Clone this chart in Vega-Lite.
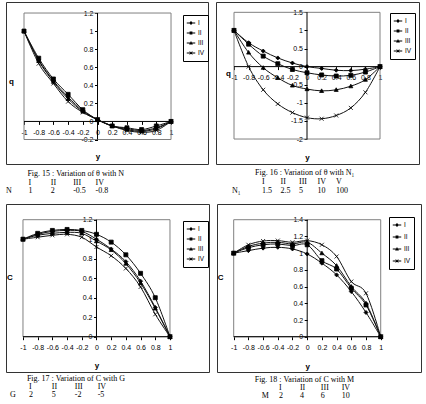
{
"$schema":"https://vega.github.io/schema/vega-lite/v6.json",
"padding":{"left":5,"top":1,"right":0,"bottom":0},
"background":"#ffffff",
"config":{
"locale":{"number":{"decimal":".","thousands":",","grouping":[3],"currency":["$",""],"minus":"-"}},
"view":{"stroke":"#333333","strokeWidth":1},
"axis":{"labelFont":"Liberation Sans","labelFontSize":7,"labelColor":"#000","titleFont":"Liberation Sans","titleFontSize":8,"titleFontWeight":"bold","titleColor":"#000","domain":false,"grid":false,"tickColor":"#000","tickSize":3,"format":"~g"},
"legend":{"orient":"none","title":null,"strokeColor":"#000","fillColor":"#fff","padding":3,"labelFont":"Liberation Sans","labelFontSize":6.5,"labelColor":"#000","symbolSize":72,"symbolOpacity":1,"symbolFillColor":"#000","rowPadding":0,"labelOffset":2}
},
"datasets":{
"p1":[
{"s":"I","x":-1,"v":1},{"s":"I","x":-0.8,"v":0.68},{"s":"I","x":-0.6,"v":0.45},{"s":"I","x":-0.4,"v":0.27},{"s":"I","x":-0.2,"v":0.12},{"s":"I","x":0,"v":0.02},{"s":"I","x":0.2,"v":-0.05},{"s":"I","x":0.4,"v":-0.08},{"s":"I","x":0.6,"v":-0.1},{"s":"I","x":0.8,"v":-0.07},{"s":"I","x":1,"v":0},
{"s":"II","x":-1,"v":1},{"s":"II","x":-0.8,"v":0.7},{"s":"II","x":-0.6,"v":0.47},{"s":"II","x":-0.4,"v":0.3},{"s":"II","x":-0.2,"v":0.13},{"s":"II","x":0,"v":0.02},{"s":"II","x":0.2,"v":-0.05},{"s":"II","x":0.4,"v":-0.07},{"s":"II","x":0.6,"v":-0.09},{"s":"II","x":0.8,"v":-0.05},{"s":"II","x":1,"v":0},
{"s":"III","x":-1,"v":1},{"s":"III","x":-0.8,"v":0.67},{"s":"III","x":-0.6,"v":0.44},{"s":"III","x":-0.4,"v":0.25},{"s":"III","x":-0.2,"v":0.11},{"s":"III","x":0,"v":0.02},{"s":"III","x":0.2,"v":-0.05},{"s":"III","x":0.4,"v":-0.09},{"s":"III","x":0.6,"v":-0.11},{"s":"III","x":0.8,"v":-0.08},{"s":"III","x":1,"v":0},
{"s":"IV","x":-1,"v":1},{"s":"IV","x":-0.8,"v":0.64},{"s":"IV","x":-0.6,"v":0.42},{"s":"IV","x":-0.4,"v":0.22},{"s":"IV","x":-0.2,"v":0.1},{"s":"IV","x":0,"v":0.02},{"s":"IV","x":0.2,"v":-0.05},{"s":"IV","x":0.4,"v":-0.1},{"s":"IV","x":0.6,"v":-0.12},{"s":"IV","x":0.8,"v":-0.1},{"s":"IV","x":1,"v":0}],
"p2":[
{"s":"I","x":-1,"v":1},{"s":"I","x":-0.8,"v":0.66},{"s":"I","x":-0.6,"v":0.43},{"s":"I","x":-0.4,"v":0.24},{"s":"I","x":-0.2,"v":0.1},{"s":"I","x":0,"v":0},{"s":"I","x":0.2,"v":-0.05},{"s":"I","x":0.4,"v":-0.1},{"s":"I","x":0.6,"v":-0.11},{"s":"I","x":0.8,"v":-0.07},{"s":"I","x":1,"v":0},
{"s":"II","x":-1,"v":1},{"s":"II","x":-0.8,"v":0.62},{"s":"II","x":-0.6,"v":0.29},{"s":"II","x":-0.4,"v":0.08},{"s":"II","x":-0.2,"v":-0.08},{"s":"II","x":0,"v":-0.17},{"s":"II","x":0.2,"v":-0.23},{"s":"II","x":0.4,"v":-0.26},{"s":"II","x":0.6,"v":-0.24},{"s":"II","x":0.8,"v":-0.15},{"s":"II","x":1,"v":0},
{"s":"III","x":-1,"v":1},{"s":"III","x":-0.8,"v":0.39},{"s":"III","x":-0.6,"v":-0.03},{"s":"III","x":-0.4,"v":-0.31},{"s":"III","x":-0.2,"v":-0.52},{"s":"III","x":0,"v":-0.62},{"s":"III","x":0.2,"v":-0.67},{"s":"III","x":0.4,"v":-0.64},{"s":"III","x":0.6,"v":-0.54},{"s":"III","x":0.8,"v":-0.36},{"s":"III","x":1,"v":0},
{"s":"IV","x":-1,"v":1},{"s":"IV","x":-0.8,"v":0},{"s":"IV","x":-0.6,"v":-0.64},{"s":"IV","x":-0.4,"v":-1.03},{"s":"IV","x":-0.2,"v":-1.27},{"s":"IV","x":0,"v":-1.41},{"s":"IV","x":0.2,"v":-1.44},{"s":"IV","x":0.4,"v":-1.35},{"s":"IV","x":0.6,"v":-1.14},{"s":"IV","x":0.8,"v":-0.71},{"s":"IV","x":1,"v":0}],
"p3":[
{"s":"I","x":-1,"v":1},{"s":"I","x":-0.8,"v":1.05},{"s":"I","x":-0.6,"v":1.08},{"s":"I","x":-0.4,"v":1.09},{"s":"I","x":-0.2,"v":1.08},{"s":"I","x":0,"v":1.0},{"s":"I","x":0.2,"v":0.9},{"s":"I","x":0.4,"v":0.77},{"s":"I","x":0.6,"v":0.57},{"s":"I","x":0.8,"v":0.3},{"s":"I","x":1,"v":0},
{"s":"II","x":-1,"v":1},{"s":"II","x":-0.8,"v":1.06},{"s":"II","x":-0.6,"v":1.09},{"s":"II","x":-0.4,"v":1.1},{"s":"II","x":-0.2,"v":1.09},{"s":"II","x":0,"v":1.05},{"s":"II","x":0.2,"v":0.97},{"s":"II","x":0.4,"v":0.84},{"s":"II","x":0.6,"v":0.65},{"s":"II","x":0.8,"v":0.4},{"s":"II","x":1,"v":0},
{"s":"III","x":-1,"v":1},{"s":"III","x":-0.8,"v":1.04},{"s":"III","x":-0.6,"v":1.06},{"s":"III","x":-0.4,"v":1.07},{"s":"III","x":-0.2,"v":1.06},{"s":"III","x":0,"v":0.98},{"s":"III","x":0.2,"v":0.89},{"s":"III","x":0.4,"v":0.75},{"s":"III","x":0.6,"v":0.55},{"s":"III","x":0.8,"v":0.29},{"s":"III","x":1,"v":0},
{"s":"IV","x":-1,"v":1},{"s":"IV","x":-0.8,"v":1.02},{"s":"IV","x":-0.6,"v":1.04},{"s":"IV","x":-0.4,"v":1.05},{"s":"IV","x":-0.2,"v":1.02},{"s":"IV","x":0,"v":0.92},{"s":"IV","x":0.2,"v":0.83},{"s":"IV","x":0.4,"v":0.7},{"s":"IV","x":0.6,"v":0.51},{"s":"IV","x":0.8,"v":0.23},{"s":"IV","x":1,"v":0}],
"p4":[
{"s":"I","x":-1,"v":1},{"s":"I","x":-0.8,"v":1.03},{"s":"I","x":-0.6,"v":1.06},{"s":"I","x":-0.4,"v":1.07},{"s":"I","x":-0.2,"v":1.05},{"s":"I","x":0,"v":0.99},{"s":"I","x":0.2,"v":0.88},{"s":"I","x":0.4,"v":0.74},{"s":"I","x":0.6,"v":0.54},{"s":"I","x":0.8,"v":0.29},{"s":"I","x":1,"v":0},
{"s":"II","x":-1,"v":1},{"s":"II","x":-0.8,"v":1.065},{"s":"II","x":-0.6,"v":1.1},{"s":"II","x":-0.4,"v":1.11},{"s":"II","x":-0.2,"v":1.09},{"s":"II","x":0,"v":1.1},{"s":"II","x":0.2,"v":0.91},{"s":"II","x":0.4,"v":0.81},{"s":"II","x":0.6,"v":0.58},{"s":"II","x":0.8,"v":0.38},{"s":"II","x":1,"v":0},
{"s":"III","x":-1,"v":1},{"s":"III","x":-0.8,"v":1.08},{"s":"III","x":-0.6,"v":1.12},{"s":"III","x":-0.4,"v":1.13},{"s":"III","x":-0.2,"v":1.11},{"s":"III","x":0,"v":1.13},{"s":"III","x":0.2,"v":1.0},{"s":"III","x":0.4,"v":0.85},{"s":"III","x":0.6,"v":0.6},{"s":"III","x":0.8,"v":0.4},{"s":"III","x":1,"v":0},
{"s":"IV","x":-1,"v":1},{"s":"IV","x":-0.8,"v":1.1},{"s":"IV","x":-0.6,"v":1.145},{"s":"IV","x":-0.4,"v":1.15},{"s":"IV","x":-0.2,"v":1.13},{"s":"IV","x":0,"v":1.15},{"s":"IV","x":0.2,"v":1.1},{"s":"IV","x":0.4,"v":0.96},{"s":"IV","x":0.6,"v":0.66},{"s":"IV","x":0.8,"v":0.52},{"s":"IV","x":1,"v":0}]
},
"spacing":0,
"resolve":{"scale":{"shape":"independent"},"legend":{"shape":"independent"}},
"vconcat":[
{"bounds":"flush","spacing":8,"resolve":{"scale":{"shape":"independent"},"legend":{"shape":"independent"}},"hconcat":[
{"width":202,"height":162,
"resolve":{"scale":{"shape":"independent"},"legend":{"shape":"independent"}},
"layer":[
{"data":{"values":[{}]},"mark":{"type":"rect","fillOpacity":0,"stroke":"#808080","strokeWidth":1},
"encoding":{"x":{"datum":-1,"type":"quantitative","scale":{"domain":[-1.245,1.503],"nice":false,"zero":false}},"x2":{"datum":1},"y":{"datum":-0.2,"type":"quantitative","scale":{"domain":[-0.471,1.322],"nice":false,"zero":false}},"y2":{"datum":1.2}}},
{"data":{"values":[{}]},"mark":{"type":"rule","color":"#000","strokeWidth":1},
"encoding":{"x":{"datum":-1,"type":"quantitative","scale":{"domain":[-1.245,1.503],"nice":false,"zero":false}},"x2":{"datum":1},"y":{"datum":0,"type":"quantitative","scale":{"domain":[-0.471,1.322],"nice":false,"zero":false}}}},
{"data":{"values":[{}]},"mark":{"type":"rule","color":"#000","strokeWidth":1},
"encoding":{"x":{"datum":0,"type":"quantitative","scale":{"domain":[-1.245,1.503],"nice":false,"zero":false}},"y":{"datum":-0.2,"type":"quantitative","scale":{"domain":[-0.471,1.322],"nice":false,"zero":false}},"y2":{"datum":1.2}}},
{"data":{"name":"p1"},"mark":{"type":"line","color":"#111","strokeWidth":1,"interpolate":"cardinal"},
"encoding":{"x":{"field":"x","type":"quantitative","scale":{"domain":[-1.245,1.503],"nice":false,"zero":false},"axis":{"orient":"bottom","offset":-42.6,"values":[-1,-0.8,-0.6,-0.4,-0.2,0,0.2,0.4,0.6,0.8,1],"tickCount":40,"labelOverlap":false,"labelFlush":false,"labelBound":false,"title":"y","titleX":91.5,"titleY":35,"titleBaseline":"middle","labelPadding":4}},
"y":{"field":"v","type":"quantitative","scale":{"domain":[-0.471,1.322],"nice":false,"zero":false},"axis":{"orient":"left","offset":-91.5,"values":[-0.2,0,0.2,0.4,0.6,0.8,1,1.2],"tickCount":40,"labelOverlap":false,"labelFlush":false,"labelBound":false,"title":"q","titleAngle":0,"titleX":-86.5,"titleY":79,"titleAlign":"center","titleBaseline":"middle","labelPadding":1.5}},
"detail":{"field":"s"}}},
{"data":{"name":"p1"},"mark":{"type":"point","filled":true,"fill":"#000","stroke":"#000","strokeWidth":0.8,"opacity":1,"size":16},
"encoding":{"x":{"field":"x","type":"quantitative","scale":{"domain":[-1.245,1.503],"nice":false,"zero":false}},"y":{"field":"v","type":"quantitative","scale":{"domain":[-0.471,1.322],"nice":false,"zero":false}},
"shape":{"field":"s","type":"nominal","scale":{"domain":["I","II","III","IV"],"range":["M0,-1L1,0L0,1L-1,0Z","M-1,-1L1,-1L1,1L-1,1Z","M0,-1L1,0.8L-1,0.8Z","M-1,-1L1,1M-1,1L1,-1"]},"legend":null}}},
{"data":{"name":"p1"},"transform":[{"filter":"false"}],"mark":{"type":"point","filled":true,"fill":"#000"},
"encoding":{"shape":{"field":"s","type":"nominal","scale":{"domain":["I","II","III","IV"],"range":["M-1,-0.11L1,-0.11L1,0.11L-1,0.11ZM0,-0.45L0.45,0L0,0.45L-0.45,0Z","M-1,-0.11L1,-0.11L1,0.11L-1,0.11ZM-0.33,-0.33L0.33,-0.33L0.33,0.33L-0.33,0.33Z","M-1,-0.11L1,-0.11L1,0.11L-1,0.11ZM0,-0.45L0.45,0.35L-0.45,0.35Z","M-1,-0.11L1,-0.11L1,0.11L-1,0.11ZM-0.273,-0.387L0.387,0.273L0.273,0.387L-0.387,-0.273ZM-0.387,0.273L0.273,-0.387L0.387,-0.273L-0.273,0.387Z"]},"legend":{"legendX":177,"legendY":13}}}}
]},
{"width":203,"height":162,
"resolve":{"scale":{"shape":"independent"},"legend":{"shape":"independent"}},
"layer":[
{"data":{"values":[{}]},"mark":{"type":"rect","fillOpacity":0,"stroke":"#808080","strokeWidth":1},
"encoding":{"x":{"datum":-1,"type":"quantitative","scale":{"domain":[-1.2466,1.534],"nice":false,"zero":false}},"x2":{"datum":1},"y":{"datum":-2,"type":"quantitative","scale":{"domain":[-2.69,1.785],"nice":false,"zero":false}},"y2":{"datum":1.5}}},
{"data":{"values":[{}]},"mark":{"type":"rule","color":"#000","strokeWidth":1},
"encoding":{"x":{"datum":-1,"type":"quantitative","scale":{"domain":[-1.2466,1.534],"nice":false,"zero":false}},"x2":{"datum":1},"y":{"datum":0,"type":"quantitative","scale":{"domain":[-2.69,1.785],"nice":false,"zero":false}}}},
{"data":{"values":[{}]},"mark":{"type":"rule","color":"#000","strokeWidth":1},
"encoding":{"x":{"datum":0,"type":"quantitative","scale":{"domain":[-1.2466,1.534],"nice":false,"zero":false}},"y":{"datum":-2,"type":"quantitative","scale":{"domain":[-2.69,1.785],"nice":false,"zero":false}},"y2":{"datum":1.5}}},
{"data":{"name":"p2"},"mark":{"type":"line","color":"#111","strokeWidth":1,"interpolate":"cardinal"},
"encoding":{"x":{"field":"x","type":"quantitative","scale":{"domain":[-1.2466,1.534],"nice":false,"zero":false},"axis":{"orient":"bottom","offset":-97.4,"values":[-1,-0.8,-0.6,-0.4,-0.2,0,0.2,0.4,0.6,0.8,1],"tickCount":40,"labelOverlap":false,"labelFlush":false,"labelBound":false,"title":"y","titleX":91,"titleY":91,"titleBaseline":"middle","labelPadding":4}},
"y":{"field":"v","type":"quantitative","scale":{"domain":[-2.69,1.785],"nice":false,"zero":false},"axis":{"orient":"left","offset":-91,"values":[-2,-1.5,-1,-0.5,0,0.5,1,1.5],"tickCount":40,"labelOverlap":false,"labelFlush":false,"labelBound":false,"title":"q","titleAngle":0,"titleX":-79,"titleY":71,"titleAlign":"center","titleBaseline":"middle","labelPadding":1.5}},
"detail":{"field":"s"}}},
{"data":{"name":"p2"},"mark":{"type":"point","filled":true,"fill":"#000","stroke":"#000","strokeWidth":0.8,"opacity":1,"size":16},
"encoding":{"x":{"field":"x","type":"quantitative","scale":{"domain":[-1.2466,1.534],"nice":false,"zero":false}},"y":{"field":"v","type":"quantitative","scale":{"domain":[-2.69,1.785],"nice":false,"zero":false}},
"shape":{"field":"s","type":"nominal","scale":{"domain":["I","II","III","IV"],"range":["M0,-1L1,0L0,1L-1,0Z","M-1,-1L1,-1L1,1L-1,1Z","M0,-1L1,0.8L-1,0.8Z","M-1,-1L1,1M-1,1L1,-1"]},"legend":null}}},
{"data":{"name":"p2"},"transform":[{"filter":"false"}],"mark":{"type":"point","filled":true,"fill":"#000"},
"encoding":{"shape":{"field":"s","type":"nominal","scale":{"domain":["I","II","III","IV"],"range":["M-1,-0.11L1,-0.11L1,0.11L-1,0.11ZM0,-0.45L0.45,0L0,0.45L-0.45,0Z","M-1,-0.11L1,-0.11L1,0.11L-1,0.11ZM-0.33,-0.33L0.33,-0.33L0.33,0.33L-0.33,0.33Z","M-1,-0.11L1,-0.11L1,0.11L-1,0.11ZM0,-0.45L0.45,0.35L-0.45,0.35Z","M-1,-0.11L1,-0.11L1,0.11L-1,0.11ZM-0.273,-0.387L0.387,0.273L0.273,0.387L-0.387,-0.273ZM-0.387,0.273L0.273,-0.387L0.387,-0.273L-0.273,0.387Z"]},"legend":{"legendX":174,"legendY":11}}}}
]}
]},
{"bounds":"flush","spacing":8,"hconcat":[
{"width":202,"height":38,"view":{"stroke":null},
"data":{"values":[{"k":"t","c":1,"r":0,"t":"Fig. 15 : Variation of θ with N"},{"k":"v","c":1,"r":1,"t":"I"},{"k":"v","c":2,"r":1,"t":"II"},{"k":"v","c":3,"r":1,"t":"III"},{"k":"v","c":4,"r":1,"t":"IV"},{"k":"l","c":0,"r":2,"t":"N"},{"k":"v","c":1,"r":2,"t":"1"},{"k":"v","c":2,"r":2,"t":"2"},{"k":"v","c":3,"r":2,"t":"-0.5"},{"k":"v","c":4,"r":2,"t":"-0.8"}]},
"encoding":{"x":{"field":"c","type":"quantitative","scale":{"domain":[0,4],"range":[0,89.5]},"axis":null},"y":{"field":"r","type":"quantitative","scale":{"domain":[0,2],"range":[8.7,26.3]},"axis":null},"text":{"field":"t"}},
"layer":[
{"transform":[{"filter":"datum.k == 'v'"}],"mark":{"type":"text","align":"left","baseline":"middle","font":"Liberation Serif","fontSize":8,"color":"#000"}},
{"transform":[{"filter":"datum.k == 't'"}],"mark":{"type":"text","align":"left","baseline":"middle","font":"Liberation Serif","fontSize":8,"color":"#000","dx":-1}},
{"transform":[{"filter":"datum.k == 'l'"}],"mark":{"type":"text","align":"left","baseline":"middle","font":"Liberation Serif","fontSize":8,"color":"#000","dx":0}}
]},
{"width":203,"height":38,"view":{"stroke":null},
"data":{"values":[{"k":"t","c":1,"r":0,"t":"Fig. 16 : Variation of θ with N₁"},{"k":"v","c":1,"r":1,"t":"I"},{"k":"v","c":2,"r":1,"t":"II"},{"k":"v","c":3,"r":1,"t":"III"},{"k":"v","c":4,"r":1,"t":"IV"},{"k":"v","c":5,"r":1,"t":"V"},{"k":"l","c":0,"r":2,"t":"N₁"},{"k":"v","c":1,"r":2,"t":"1.5"},{"k":"v","c":2,"r":2,"t":"2.5"},{"k":"v","c":3,"r":2,"t":"5"},{"k":"v","c":4,"r":2,"t":"10"},{"k":"v","c":5,"r":2,"t":"100"}]},
"encoding":{"x":{"field":"c","type":"quantitative","scale":{"domain":[0,5],"range":[27.5,120]},"axis":null},"y":{"field":"r","type":"quantitative","scale":{"domain":[0,2],"range":[7.7,25.7]},"axis":null},"text":{"field":"t"}},
"layer":[
{"transform":[{"filter":"datum.k == 'v'"}],"mark":{"type":"text","align":"left","baseline":"middle","font":"Liberation Serif","fontSize":8,"color":"#000"}},
{"transform":[{"filter":"datum.k == 't'"}],"mark":{"type":"text","align":"left","baseline":"middle","font":"Liberation Serif","fontSize":8,"color":"#000","dx":-7}},
{"transform":[{"filter":"datum.k == 'l'"}],"mark":{"type":"text","align":"left","baseline":"middle","font":"Liberation Serif","fontSize":8,"color":"#000","dx":-11.5}}
]}
]},
{"bounds":"flush","spacing":8,"resolve":{"scale":{"shape":"independent"},"legend":{"shape":"independent"}},"hconcat":[
{"width":203,"height":168,
"resolve":{"scale":{"shape":"independent"},"legend":{"shape":"independent"}},
"layer":[
{"data":{"values":[{}]},"mark":{"type":"rect","fillOpacity":0,"stroke":"#808080","strokeWidth":1},
"encoding":{"x":{"datum":-1,"type":"quantitative","scale":{"domain":[-1.231,1.531],"nice":false,"zero":false}},"x2":{"datum":1},"y":{"datum":0,"type":"quantitative","scale":{"domain":[-0.362,1.361],"nice":false,"zero":false}},"y2":{"datum":1.2}}},
{"data":{"values":[{}]},"mark":{"type":"rule","color":"#000","strokeWidth":1},
"encoding":{"x":{"datum":-1,"type":"quantitative","scale":{"domain":[-1.231,1.531],"nice":false,"zero":false}},"x2":{"datum":1},"y":{"datum":0,"type":"quantitative","scale":{"domain":[-0.362,1.361],"nice":false,"zero":false}}}},
{"data":{"values":[{}]},"mark":{"type":"rule","color":"#000","strokeWidth":1},
"encoding":{"x":{"datum":0,"type":"quantitative","scale":{"domain":[-1.231,1.531],"nice":false,"zero":false}},"y":{"datum":0,"type":"quantitative","scale":{"domain":[-0.362,1.361],"nice":false,"zero":false}},"y2":{"datum":1.2}}},
{"data":{"name":"p3"},"mark":{"type":"line","color":"#111","strokeWidth":1,"interpolate":"cardinal"},
"encoding":{"x":{"field":"x","type":"quantitative","scale":{"domain":[-1.231,1.531],"nice":false,"zero":false},"axis":{"orient":"bottom","offset":-35.3,"values":[-1,-0.8,-0.6,-0.4,-0.2,0,0.2,0.4,0.6,0.8,1],"tickCount":40,"labelOverlap":false,"labelFlush":false,"labelBound":false,"title":"y","titleX":90.5,"titleY":28.6,"titleBaseline":"middle","labelPadding":4}},
"y":{"field":"v","type":"quantitative","scale":{"domain":[-0.362,1.361],"nice":false,"zero":false},"axis":{"orient":"left","offset":-90.5,"values":[0,0.2,0.4,0.6,0.8,1,1.2],"tickCount":40,"labelOverlap":false,"labelFlush":false,"labelBound":false,"title":"C","titleAngle":0,"titleX":-87,"titleY":73,"titleAlign":"center","titleBaseline":"middle","labelPadding":1.5}},
"detail":{"field":"s"}}},
{"data":{"name":"p3"},"mark":{"type":"point","filled":true,"fill":"#000","stroke":"#000","strokeWidth":0.8,"opacity":1,"size":16},
"encoding":{"x":{"field":"x","type":"quantitative","scale":{"domain":[-1.231,1.531],"nice":false,"zero":false}},"y":{"field":"v","type":"quantitative","scale":{"domain":[-0.362,1.361],"nice":false,"zero":false}},
"shape":{"field":"s","type":"nominal","scale":{"domain":["I","II","III","IV"],"range":["M0,-1L1,0L0,1L-1,0Z","M-1,-1L1,-1L1,1L-1,1Z","M0,-1L1,0.8L-1,0.8Z","M-1,-1L1,1M-1,1L1,-1"]},"legend":null}}},
{"data":{"name":"p3"},"transform":[{"filter":"false"}],"mark":{"type":"point","filled":true,"fill":"#000"},
"encoding":{"shape":{"field":"s","type":"nominal","scale":{"domain":["I","II","III","IV"],"range":["M-1,-0.11L1,-0.11L1,0.11L-1,0.11ZM0,-0.45L0.45,0L0,0.45L-0.45,0Z","M-1,-0.11L1,-0.11L1,0.11L-1,0.11ZM-0.33,-0.33L0.33,-0.33L0.33,0.33L-0.33,0.33Z","M-1,-0.11L1,-0.11L1,0.11L-1,0.11ZM0,-0.45L0.45,0.35L-0.45,0.35Z","M-1,-0.11L1,-0.11L1,0.11L-1,0.11ZM-0.273,-0.387L0.387,0.273L0.273,0.387L-0.387,-0.273ZM-0.387,0.273L0.273,-0.387L0.387,-0.273L-0.273,0.387Z"]},"legend":{"legendX":177,"legendY":17}}}}
]},
{"width":204,"height":168,
"resolve":{"scale":{"shape":"independent"},"legend":{"shape":"independent"}},
"layer":[
{"data":{"values":[{}]},"mark":{"type":"rect","fillOpacity":0,"stroke":"#808080","strokeWidth":1},
"encoding":{"x":{"datum":-1,"type":"quantitative","scale":{"domain":[-1.227,1.548],"nice":false,"zero":false}},"x2":{"datum":1},"y":{"datum":0,"type":"quantitative","scale":{"domain":[-0.422,1.588],"nice":false,"zero":false}},"y2":{"datum":1.4}}},
{"data":{"values":[{}]},"mark":{"type":"rule","color":"#000","strokeWidth":1},
"encoding":{"x":{"datum":-1,"type":"quantitative","scale":{"domain":[-1.227,1.548],"nice":false,"zero":false}},"x2":{"datum":1},"y":{"datum":0,"type":"quantitative","scale":{"domain":[-0.422,1.588],"nice":false,"zero":false}}}},
{"data":{"values":[{}]},"mark":{"type":"rule","color":"#000","strokeWidth":1},
"encoding":{"x":{"datum":0,"type":"quantitative","scale":{"domain":[-1.227,1.548],"nice":false,"zero":false}},"y":{"datum":0,"type":"quantitative","scale":{"domain":[-0.422,1.588],"nice":false,"zero":false}},"y2":{"datum":1.4}}},
{"data":{"name":"p4"},"mark":{"type":"line","color":"#111","strokeWidth":1,"interpolate":"cardinal"},
"encoding":{"x":{"field":"x","type":"quantitative","scale":{"domain":[-1.227,1.548],"nice":false,"zero":false},"axis":{"orient":"bottom","offset":-35.3,"values":[-1,-0.8,-0.6,-0.4,-0.2,0,0.2,0.4,0.6,0.8,1],"tickCount":40,"labelOverlap":false,"labelFlush":false,"labelBound":false,"title":"y","titleX":90.2,"titleY":29.6,"titleBaseline":"middle","labelPadding":4}},
"y":{"field":"v","type":"quantitative","scale":{"domain":[-0.422,1.588],"nice":false,"zero":false},"axis":{"orient":"left","offset":-90.2,"values":[0,0.2,0.4,0.6,0.8,1,1.2,1.4],"tickCount":40,"labelOverlap":false,"labelFlush":false,"labelBound":false,"title":"C","titleAngle":0,"titleX":-87,"titleY":73,"titleAlign":"center","titleBaseline":"middle","labelPadding":1.5}},
"detail":{"field":"s"}}},
{"data":{"name":"p4"},"mark":{"type":"point","filled":true,"fill":"#000","stroke":"#000","strokeWidth":0.8,"opacity":1,"size":16},
"encoding":{"x":{"field":"x","type":"quantitative","scale":{"domain":[-1.227,1.548],"nice":false,"zero":false}},"y":{"field":"v","type":"quantitative","scale":{"domain":[-0.422,1.588],"nice":false,"zero":false}},
"shape":{"field":"s","type":"nominal","scale":{"domain":["I","II","III","IV"],"range":["M0,-1L1,0L0,1L-1,0Z","M-1,-1L1,-1L1,1L-1,1Z","M0,-1L1,0.8L-1,0.8Z","M-1,-1L1,1M-1,1L1,-1"]},"legend":null}}},
{"data":{"name":"p4"},"transform":[{"filter":"false"}],"mark":{"type":"point","filled":true,"fill":"#000"},
"encoding":{"shape":{"field":"s","type":"nominal","scale":{"domain":["I","II","III","IV"],"range":["M-1,-0.11L1,-0.11L1,0.11L-1,0.11ZM0,-0.45L0.45,0L0,0.45L-0.45,0Z","M-1,-0.11L1,-0.11L1,0.11L-1,0.11ZM-0.33,-0.33L0.33,-0.33L0.33,0.33L-0.33,0.33Z","M-1,-0.11L1,-0.11L1,0.11L-1,0.11ZM0,-0.45L0.45,0.35L-0.45,0.35Z","M-1,-0.11L1,-0.11L1,0.11L-1,0.11ZM-0.273,-0.387L0.387,0.273L0.273,0.387L-0.387,-0.273ZM-0.387,0.273L0.273,-0.387L0.387,-0.273L-0.273,0.387Z"]},"legend":{"legendX":172,"legendY":13,"rowPadding":2}}}}
]}
]},
{"bounds":"flush","spacing":8,"hconcat":[
{"width":203,"height":35,"view":{"stroke":null},
"data":{"values":[{"k":"t","c":1,"r":0,"t":"Fig. 17 : Variation of C with G"},{"k":"v","c":1,"r":1,"t":"I"},{"k":"v","c":2,"r":1,"t":"II"},{"k":"v","c":3,"r":1,"t":"III"},{"k":"v","c":4,"r":1,"t":"IV"},{"k":"l","c":0,"r":2,"t":"G"},{"k":"v","c":1,"r":2,"t":"2"},{"k":"v","c":2,"r":2,"t":"5"},{"k":"v","c":3,"r":2,"t":"-2"},{"k":"v","c":4,"r":2,"t":"-5"}]},
"encoding":{"x":{"field":"c","type":"quantitative","scale":{"domain":[0,4],"range":[0,91.7]},"axis":null},"y":{"field":"r","type":"quantitative","scale":{"domain":[0,2],"range":[6,21.7]},"axis":null},"text":{"field":"t"}},
"layer":[
{"transform":[{"filter":"datum.k == 'v'"}],"mark":{"type":"text","align":"left","baseline":"middle","font":"Liberation Serif","fontSize":8,"color":"#000"}},
{"transform":[{"filter":"datum.k == 't'"}],"mark":{"type":"text","align":"left","baseline":"middle","font":"Liberation Serif","fontSize":8,"color":"#000","dx":-2}},
{"transform":[{"filter":"datum.k == 'l'"}],"mark":{"type":"text","align":"left","baseline":"middle","font":"Liberation Serif","fontSize":8,"color":"#000","dx":4}}
]},
{"width":204,"height":35,"view":{"stroke":null},
"data":{"values":[{"k":"t","c":1,"r":0,"t":"Fig. 18 : Variation of C with M"},{"k":"v","c":1,"r":1,"t":"I"},{"k":"v","c":2,"r":1,"t":"II"},{"k":"v","c":3,"r":1,"t":"III"},{"k":"v","c":4,"r":1,"t":"IV"},{"k":"l","c":0,"r":2,"t":"M"},{"k":"v","c":1,"r":2,"t":"2"},{"k":"v","c":2,"r":2,"t":"4"},{"k":"v","c":3,"r":2,"t":"6"},{"k":"v","c":4,"r":2,"t":"10"}]},
"encoding":{"x":{"field":"c","type":"quantitative","scale":{"domain":[0,4],"range":[41.1,124.7]},"axis":null},"y":{"field":"r","type":"quantitative","scale":{"domain":[0,2],"range":[6.7,23]},"axis":null},"text":{"field":"t"}},
"layer":[
{"transform":[{"filter":"datum.k == 'v'"}],"mark":{"type":"text","align":"left","baseline":"middle","font":"Liberation Serif","fontSize":8,"color":"#000"}},
{"transform":[{"filter":"datum.k == 't'"}],"mark":{"type":"text","align":"left","baseline":"middle","font":"Liberation Serif","fontSize":8,"color":"#000","dx":-24.3}},
{"transform":[{"filter":"datum.k == 'l'"}],"mark":{"type":"text","align":"left","baseline":"middle","font":"Liberation Serif","fontSize":8,"color":"#000","dx":3.6}}
]}
]}
]
}
